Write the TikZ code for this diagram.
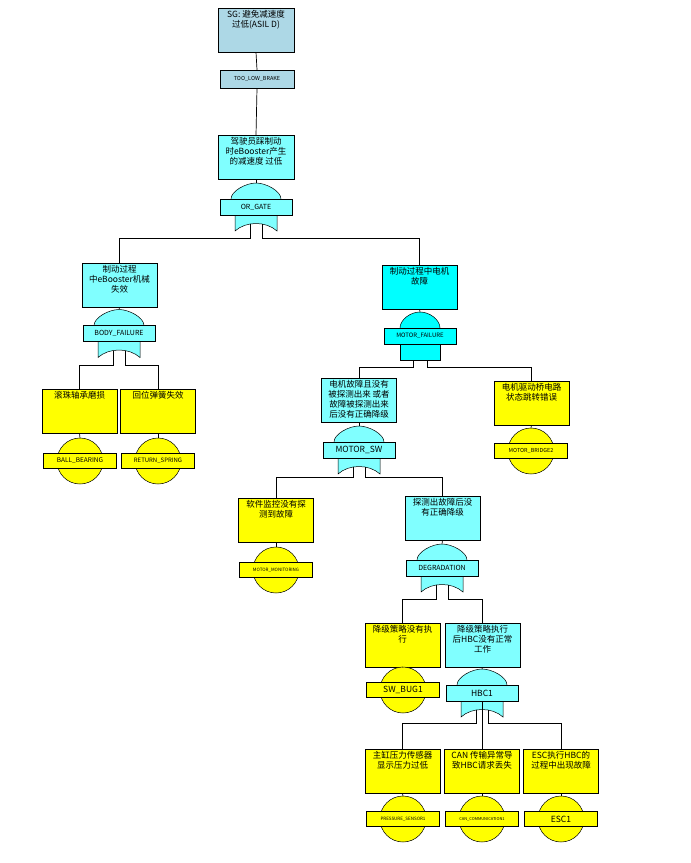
\documentclass[tikz,border=0pt]{standalone}
\usepackage{fontspec}
\setmainfont{Noto Sans CJK SC}
\usetikzlibrary{calc}
\definecolor{sgblue}{HTML}{ADD8E6}
\definecolor{lcyan}{HTML}{80FFFF}
\definecolor{bcyan}{HTML}{00FFFF}
\definecolor{byel}{HTML}{FFFF00}
\tikzset{
  evt/.style={draw, fill=#1, minimum width=75pt, minimum height=44pt, inner sep=1pt, anchor=center},
  glabel/.style={draw, fill=#1, minimum width=72pt, minimum height=16pt, inner sep=0pt, font=\fontsize{7}{8}\selectfont},
  conn/.style={draw, line width=0.7pt}
}
% event text, top aligned
\newcommand\etext[1]{\parbox[t][40pt]{73pt}{\centering\fontsize{8.5}{10}\selectfont #1}}
% or gate: name, position, colour, label
\newcommand\orgate[4]{%
  \begin{scope}[shift={#2}]
    \draw[fill=#3, line width=0.5pt] (-25,-8) .. controls (-25,-16) and (-10,-24) .. (0,-24) .. controls (10,-24) and (25,-16) .. (25,-8);
    \draw[fill=#3, line width=0.5pt] (-21,8) -- (-21,24) .. controls (-10,14) and (10,14) .. (21,24) -- (21,8);
    \node[glabel=#3] (#1) at (0,0) {#4};
    \coordinate (#1-t) at (0,-24);
    \coordinate (#1-l) at (-6,17);
    \coordinate (#1-r) at (6,17);
  \end{scope}}
% and gate
\newcommand\andgate[4]{%
  \begin{scope}[shift={#2}]
    \draw[fill=#3, line width=0.5pt] (-20,-8) .. controls (-20,-16) and (-10,-24) .. (0,-24) .. controls (10,-24) and (20,-16) .. (20,-8);
    \draw[fill=#3, line width=0.5pt] (-20,8) rectangle (20,24);
    \node[glabel=#3] (#1) at (0,0) {#4};
    \coordinate (#1-t) at (0,-24);
    \coordinate (#1-l) at (-7,24);
    \coordinate (#1-r) at (7,24);
  \end{scope}}
% basic event: name, position, label, font
\newcommand\basic[4]{%
  \draw[fill=byel, line width=0.5pt] #2 circle (23);
  \node[draw, fill=byel, minimum width=73pt, minimum height=15pt, inner sep=0pt, font=#4] (#1) at #2 {#3};
  \coordinate (#1-t) at ($#2+(0,-23)$);}

\begin{document}
\begin{tikzpicture}[x=1pt, y=-1pt]
  \useasboundingbox (0,0) rectangle (691,863);
  % top
  \node[evt=sgblue, minimum width=76pt] (sg) at (256,30) {\etext{SG: 避免减速度\\过低(ASIL D)}};
  \node[glabel=sgblue, minimum width=74pt, minimum height=18pt, font=\fontsize{5.5}{6}\selectfont] (tlb) at (257,79) {TOO\_LOW\_BRAKE};
  \node[evt=lcyan, minimum width=76pt] (e1) at (256,157.5) {\etext{驾驶员踩制动\\时eBooster产生\\的减速度 过低}};
  \orgate{org}{(256,207)}{lcyan}{OR\_GATE}
  % left branch
  \node[evt=lcyan] (e2) at (119.5,285) {\etext{制动过程\\中eBooster机械\\失效}};
  \orgate{bodyf}{(119,333.5)}{lcyan}{BODY\_FAILURE}
  \node[evt=byel] (e3) at (79.5,411) {\etext{滚珠轴承磨损}};
  \node[evt=byel] (e4) at (158,411) {\etext{回位弹簧失效}};
  \basic{ball}{(80,461)}{BALL\_BEARING}{\fontsize{6.5}{7}\selectfont}
  \basic{spring}{(158,461)}{RETURN\_SPRING}{\fontsize{6}{7}\selectfont}
  % right branch
  \node[evt=bcyan] (e5) at (419.5,287) {\etext{制动过程中电机\\故障}};
  \andgate{motf}{(420,336)}{bcyan}{\fontsize{6}{7}\selectfont MOTOR\_FAILURE}
  \node[evt=lcyan] (e6) at (359,400) {\etext{电机故障且没有\\被探测出来 或者\\故障被探测出来\\后没有正确降级}};
  \orgate{msw}{(359,450)}{lcyan}{\fontsize{8.5}{9}\selectfont MOTOR\_SW}
  \node[evt=byel] (e7) at (531.5,403) {\etext{电机驱动桥电路\\状态跳转错误}};
  \basic{bridge}{(531,451)}{MOTOR\_BRIDGE2}{\fontsize{5.5}{6}\selectfont}
  \node[evt=byel] (e8) at (276,520) {\etext{软件监控没有探\\测到故障}};
  \basic{monit}{(276,570)}{MOTOR\_MONITORING}{\fontsize{4.5}{5}\selectfont}
  \node[evt=lcyan] (e9) at (442.5,518) {\etext{探测出故障后没\\有正确降级}};
  \orgate{degr}{(442,568)}{lcyan}{DEGRADATION}
  \node[evt=byel] (e10) at (402.5,645) {\etext{降级策略没有执\\行}};
  \basic{swbug}{(403,690)}{SW\_BUG1}{\fontsize{8.5}{9}\selectfont}
  \node[evt=lcyan] (e11) at (482.5,645) {\etext{降级策略执行\\后HBC没有正常\\工作}};
  \orgate{hbc}{(482,693)}{lcyan}{\fontsize{8.5}{9}\selectfont HBC1}
  \node[evt=byel] (e12) at (402.5,771.5) {\etext{主缸压力传感器\\显示压力过低}};
  \node[evt=byel] (e13) at (482,771.5) {\etext{CAN 传输异常导\\致HBC请求丢失}};
  \node[evt=byel] (e14) at (561,771.5) {\etext{ESC执行HBC的\\过程中出现故障}};
  \basic{press}{(403,819)}{PRESSURE\_SENSOR1}{\fontsize{4.5}{5}\selectfont}
  \basic{can}{(482,819)}{CAN\_COMMUNICATION1}{\fontsize{4}{5}\selectfont}
  \basic{esc}{(561,819)}{ESC1}{\fontsize{8.5}{9}\selectfont}
  % Edges
  \draw[conn] (sg.south) -- (tlb.north);
  \draw[conn] (tlb.south) -- (e1.north);
  \draw[conn] (e1.south) -- (org-t);
  \draw[conn] (org-l) -- ++(0,14) -| (e2.north);
  \draw[conn] (org-r) -- ++(0,14) -| (e5.north);
  \draw[conn] (e2.south) -- (bodyf-t);
  \draw[conn] (bodyf-l) -- ++(0,15) -| (e3.north);
  \draw[conn] (bodyf-r) -- ++(0,15) -| (e4.north);
  \draw[conn] (e3.south) -- (ball-t);
  \draw[conn] (e4.south) -- (spring-t);
  \draw[conn] (e5.south) -- (motf-t);
  \draw[conn] (motf-l) -- ++(0,7) -| (e6.north);
  \draw[conn] (motf-r) -- ++(0,7) -| (e7.north);
  \draw[conn] (e7.south) -- (bridge-t);
  \draw[conn] (e6.south) -- (msw-t);
  \draw[conn] (msw-l) -- ++(0,10) -| (e8.north);
  \draw[conn] (msw-r) -- ++(0,10) -| (e9.north);
  \draw[conn] (e8.south) -- (monit-t);
  \draw[conn] (e9.south) -- (degr-t);
  \draw[conn] (degr-l) -- ++(0,14) -| (e10.north);
  \draw[conn] (degr-r) -- ++(0,14) -| (e11.north);
  \draw[conn] (e10.south) -- (swbug-t);
  \draw[conn] (e11.south) -- (hbc-t);
  \draw[conn] (hbc-l) -- ++(0,13) -| (e12.north);
  \draw[conn] (hbc.south) -- (e13.north);
  \draw[conn] (hbc-r) -- ++(0,13) -| (e14.north);
  \draw[conn] (e12.south) -- (press-t);
  \draw[conn] (e13.south) -- (can-t);
  \draw[conn] (e14.south) -- (esc-t);
\end{tikzpicture}
\end{document}
